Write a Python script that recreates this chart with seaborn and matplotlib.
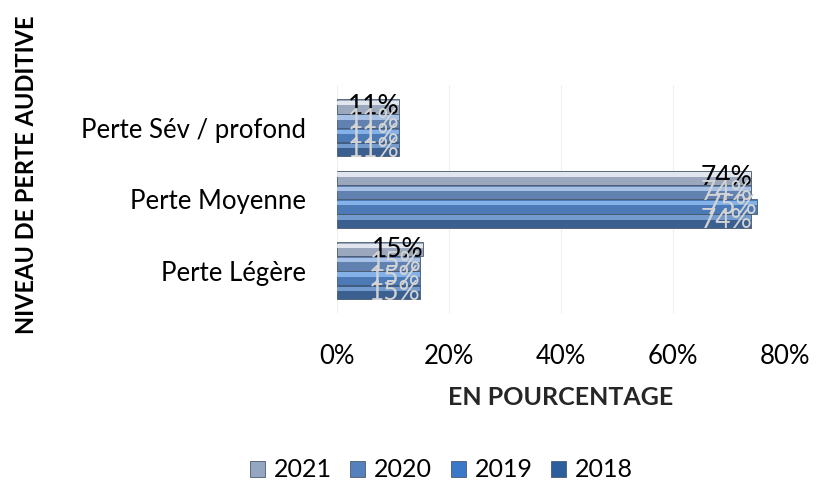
import pandas as pd
import seaborn as sns
import matplotlib.pyplot as plt
from matplotlib.patches import Rectangle, Patch

# data
categories = ["Perte Sév / profond", "Perte Moyenne", "Perte Légère"]
years = ["2021", "2020", "2019", "2018"]
v2021 = [11, 74, 15.4]
v2020 = [11, 74, 14.9]
v2019 = [11, 75, 14.8]
v2018 = [11, 74, 14.8]

colors = ["#94a6c2", "#5480bd", "#3a78c8", "#2d5e9e"]
highlights = ["#eef2f8", "#b3cdef", "#8fbcf0", "#7ea6da"]

rows = []
for yr, vals in zip(years, [v2021, v2020, v2019, v2018]):
    for cat, v in zip(categories, vals):
        rows.append({"cat": cat, "year": yr, "val": v})
df = pd.DataFrame(rows)

sns.set_style("white")
plt.rcParams["font.family"] = ["Lato", "DejaVu Sans"]
plt.rcParams["text.color"] = "black"
plt.rcParams["xtick.color"] = "black"
plt.rcParams["ytick.color"] = "black"

fig = plt.figure(figsize=(8.22, 4.86), dpi=100)
ax = fig.add_axes([0.41, 0.355, 0.545, 0.47])

sns.barplot(data=df, y="cat", x="val", hue="year", order=categories,
            hue_order=years, palette=colors, orient="h", width=0.8,
            edgecolor="#4a5a70", linewidth=0.6, legend=False, ax=ax)

# glossy stripe on each bar + value labels
for i, cont in enumerate(ax.containers):
    for p, v in zip(cont.patches, cont.datavalues):
        x0, y0 = p.get_x(), p.get_y()
        w, h = p.get_width(), p.get_height()
        ax.add_patch(Rectangle((x0, y0 + h * 0.12), w, h * 0.3,
                               facecolor=highlights[i], edgecolor="none",
                               alpha=0.85, zorder=p.get_zorder() + 0.1))
        ax.text(v - 4.5, y0 + h / 2, f"{round(v)}%", ha="center", va="center",
                fontsize=19, color="black" if i == 0 else "#d4d4d4",
                zorder=5)

ax.set_xlim(0, 80)
ax.set_ylim(2.6, -0.6)
ax.set_xticks([0, 20, 40, 60, 80])
ax.set_xticklabels(["0%", "20%", "40%", "60%", "80%"])
ax.tick_params(axis="x", labelsize=18.5, pad=22, length=0)
ax.tick_params(axis="y", labelsize=18.5, pad=22, length=0)
ax.xaxis.grid(True, color="#efefef", linewidth=0.8)
ax.set_axisbelow(True)
for s in ax.spines.values():
    s.set_visible(False)

ax.set_ylabel("")
ax.set_xlabel("EN POURCENTAGE", fontsize=18, fontweight="bold", labelpad=12)
fig.text(0.032, 0.64, "NIVEAU DE PERTE AUDITIVE", rotation=90, fontsize=17,
         fontweight="bold", ha="center", va="center")

handles = [Patch(facecolor=c, edgecolor="#4a5a70", linewidth=0.6) for c in colors]
fig.legend(handles, years, loc="center", bbox_to_anchor=(0.537, 0.033),
           ncol=4, frameon=False, fontsize=18, handlelength=0.6,
           handleheight=0.6, handletextpad=0.35, columnspacing=0.75)

fig.savefig("out.png", dpi=100)
